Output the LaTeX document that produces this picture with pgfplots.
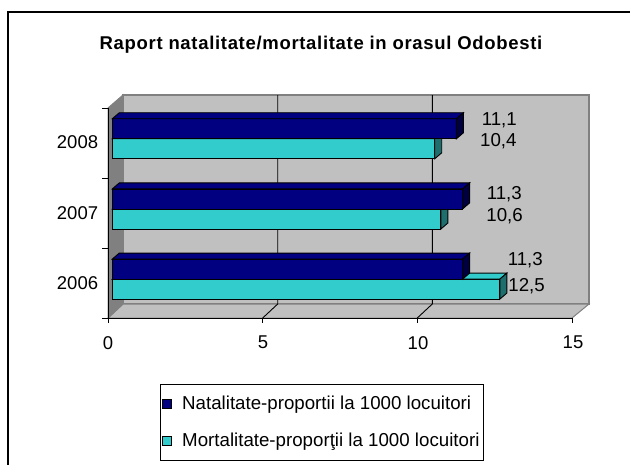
\documentclass[border=0pt]{standalone}
\usepackage{fontspec}
\setmainfont{Liberation Sans}
\usepackage{pgfplots}
\pgfplotsset{compat=1.18}
\definecolor{navy}{RGB}{0,0,128}
\definecolor{navyside}{RGB}{0,0,64}
\definecolor{aqua}{RGB}{51,204,204}
\definecolor{aquaside}{RGB}{30,110,110}
\definecolor{wall}{RGB}{192,192,192}
\definecolor{sidewall}{RGB}{128,128,128}
\definecolor{edge}{RGB}{128,128,128}
\begin{document}
\begin{tikzpicture}
\useasboundingbox (0bp,0bp) rectangle (630bp,-465bp);
\begin{scope}[x=1bp,y=-1bp]
\begin{scope}
\clip (0,0) rectangle (630,465);
\draw[line width=1.5bp] (8,12) rectangle (700,520);
\end{scope}
\node[font=\bfseries\fontsize{18.5bp}{21bp}\selectfont\addfontfeature{LetterSpace=3.7}] at (321,45) {Raport natalitate/mortalitate in orasul Odobesti};
% back wall
\filldraw[fill=wall, draw=edge, line width=1.5bp] (123,95) rectangle (589,304);
% floor
\filldraw[fill=wall, draw=edge, line width=1bp] (108,318) -- (572,318) -- (589,304) -- (123,304) -- cycle;
% left wall
\filldraw[fill=sidewall, draw=edge, line width=1bp] (108,108) -- (123,95) -- (123,304) -- (108,318) -- cycle;
% gridlines
\draw[line width=0.9bp] (277.7,95) -- (277.7,304) -- (262.7,318);
\draw[line width=0.9bp] (432.3,95) -- (432.3,304) -- (417.3,318);
% axis lines and ticks
\draw[line width=1bp] (108,108) -- (108,318) -- (572,318);
\foreach \y in {108,178,248,318} \draw[line width=1bp] (102,\y) -- (108,\y);
\foreach \x in {108,262.7,417.3,572} \draw[line width=1bp] (\x,318) -- (\x,323);
\end{scope}
\begin{axis}[
  at={(112.3bp,-314.2bp)}, anchor=south west,
  scale only axis, width=465bp, height=210.5bp,
  xmin=0, xmax=15, ymin=-0.5, ymax=2.5,
  clip=false,
  axis line style={draw=none},
  tick style={draw=none},
  major tick length=0pt,
  xtick={0,5,10,15}, ytick={0,1,2}, yticklabels={2006,2007,2008},
  tick label style={font=\fontsize{18.5bp}{20bp}\selectfont},
  /pgf/number format/assume math mode=true,
  xticklabel style={anchor=center, xshift=-4.3bp, yshift=-28.5bp},
  yticklabel style={anchor=east, inner sep=0pt, xshift=-14bp, yshift=-3.7bp},
  legend style={at={(0.1026,-0.33)}, anchor=north west, draw=black, line width=0.8bp,
    inner xsep=2bp, inner ysep=10bp, font=\fontsize{18.7bp}{21bp}\selectfont, row sep=18bp,
    /tikz/every odd column/.append style={column sep=8bp}},
  legend cell align=left,
  reverse legend,
]
% Mortalitate (cyan)
\addplot[xbar, bar width=20bp, bar shift=-10bp, fill=aqua, draw=black, line width=0.9bp,
  legend image code/.code={\draw[fill=aqua,draw=black,line width=0.8bp] (0bp,-4.5bp) rectangle (9bp,4.5bp);}]
  coordinates {(12.5,0) (10.6,1) (10.4,2)};
\addlegendentry{Mortalitate-proporţii la 1000 locuitori}
% cyan top faces
\addplot[forget plot, fill=aqua, draw=black, line width=0.9bp] coordinates {(0,0) (12.5,0) (12.726,0.0857) (0.226,0.0857)} --cycle;
\addplot[forget plot, fill=aqua, draw=black, line width=0.9bp] coordinates {(0,1) (10.6,1) (10.826,1.0857) (0.226,1.0857)} --cycle;
\addplot[forget plot, fill=aqua, draw=black, line width=0.9bp] coordinates {(0,2) (10.4,2) (10.626,2.0857) (0.226,2.0857)} --cycle;
% cyan right faces
\addplot[forget plot, fill=aquaside, draw=black, line width=0.9bp] coordinates {(12.5,-0.2857) (12.726,-0.2) (12.726,0.0857) (12.5,0)} --cycle;
\addplot[forget plot, fill=aquaside, draw=black, line width=0.9bp] coordinates {(10.6,0.7143) (10.826,0.8) (10.826,1.0857) (10.6,1)} --cycle;
\addplot[forget plot, fill=aquaside, draw=black, line width=0.9bp] coordinates {(10.4,1.7143) (10.626,1.8) (10.626,2.0857) (10.4,2)} --cycle;
% Natalitate (navy)
\addplot[xbar, bar width=20bp, bar shift=10bp, fill=navy, draw=black, line width=0.9bp,
  legend image code/.code={\draw[fill=navy,draw=black,line width=0.8bp] (0bp,-4.5bp) rectangle (9bp,4.5bp);}]
  coordinates {(11.3,0) (11.3,1) (11.1,2)};
\addlegendentry{Natalitate-proportii la 1000 locuitori}
% navy top faces
\addplot[forget plot, fill=navy, draw=black, line width=0.9bp] coordinates {(0,0.2857) (11.3,0.2857) (11.526,0.3714) (0.226,0.3714)} --cycle;
\addplot[forget plot, fill=navy, draw=black, line width=0.9bp] coordinates {(0,1.2857) (11.3,1.2857) (11.526,1.3714) (0.226,1.3714)} --cycle;
\addplot[forget plot, fill=navy, draw=black, line width=0.9bp] coordinates {(0,2.2857) (11.1,2.2857) (11.326,2.3714) (0.226,2.3714)} --cycle;
% navy right faces
\addplot[forget plot, fill=navyside, draw=black, line width=0.9bp] coordinates {(11.3,0) (11.526,0.0857) (11.526,0.3714) (11.3,0.2857)} --cycle;
\addplot[forget plot, fill=navyside, draw=black, line width=0.9bp] coordinates {(11.3,1) (11.526,1.0857) (11.526,1.3714) (11.3,1.2857)} --cycle;
\addplot[forget plot, fill=navyside, draw=black, line width=0.9bp] coordinates {(11.1,2) (11.326,2.0857) (11.326,2.3714) (11.1,2.2857)} --cycle;
\end{axis}
\begin{scope}[x=1bp,y=-1bp, every node/.style={font=\fontsize{18.7bp}{20bp}\selectfont, inner sep=0pt, anchor=base east}]
\node at (517,125.4) {11,1};
\node at (516.7,146.4) {10,4};
\node at (522,199.4) {11,3};
\node at (523,221.9) {10,6};
\node at (543,265.4) {11,3};
\node at (545,291.1) {12,5};
\end{scope}
\end{tikzpicture}
\end{document}
